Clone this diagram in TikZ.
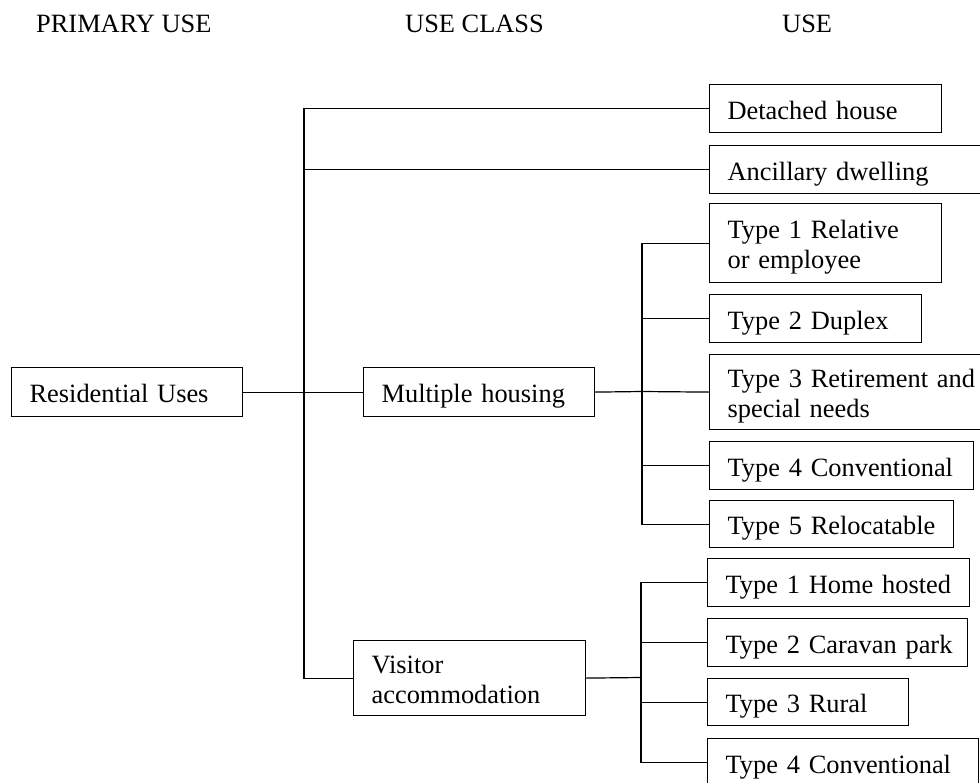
\documentclass[tikz,border=0pt]{standalone}
\usepackage{fontspec}
\setmainfont{Liberation Serif}
\begin{document}
\begin{tikzpicture}[x=1pt,y=-1pt,
  every node/.style={font=\fontsize{26.4}{30}\selectfont},
  box/.style={draw=black, line width=1.2pt, anchor=north west, inner xsep=18pt, inner ysep=0pt,
    align=left, text height=21pt, text depth=0pt},
  box2/.style={box, text depth=30pt},
  head/.style={anchor=base west, inner sep=0pt},
  conn/.style={draw=black, line width=1.2pt}
]
\useasboundingbox (0,0) rectangle (980,782);
\clip (0,0) rectangle (980,782);

% headers
\node[head] (h1) at (36,32) {PRIMARY USE};
\node[head] (h2) at (405,32) {USE CLASS};
\node[head] (h3) at (782,32) {USE};

% primary
\node[box, text width=195pt, minimum height=49pt] (res) at (11,367) {\mbox{Residential Uses}};

% use classes
\node[box, text width=195pt, minimum height=49pt] (mh) at (363,367) {\mbox{Multiple housing}};
\node[box2, text width=196pt, minimum height=75pt] (va) at (353,640) {\mbox{Visitor}\\\mbox{accommodation}};

% uses (top)
\node[box, text width=196pt, minimum height=48pt] (det) at (709,84) {\mbox{Detached house}};
\node[box, text width=264pt, minimum height=48pt] (anc) at (709,145) {\mbox{Ancillary dwelling}};

% multiple housing types
\node[box2, text width=196pt, minimum height=79pt] (m1) at (709,203) {\mbox{Type 1 Relative}\\\mbox{or employee}};
\node[box, text width=176pt, minimum height=48pt] (m2) at (709,294) {\mbox{Type 2 Duplex}};
\node[box2, text width=264pt, minimum height=75pt] (m3) at (709,354) {\mbox{Type 3 Retirement and}\\\mbox{special needs}};
\node[box, text width=228pt, minimum height=48pt] (m4) at (709,441) {\mbox{Type 4 Conventional}};
\node[box, text width=208pt, minimum height=47pt] (m5) at (709,500) {\mbox{Type 5 Relocatable}};

% visitor types
\node[box, text width=226pt, minimum height=48pt] (v1) at (707,558) {\mbox{Type 1 Home hosted}};
\node[box, text width=224pt, minimum height=48pt] (v2) at (707,618) {\mbox{Type 2 Caravan park}};
\node[box, text width=165pt, minimum height=47pt] (v3) at (707,678) {\mbox{Type 3 Rural}};
\node[box, text width=235pt, minimum height=48pt] (v4) at (707,738) {\mbox{Type 4 Conventional}};

% trunk coordinates
\coordinate (t1) at (304,391.5);
\coordinate (t2) at (642,391.5);
\coordinate (t3) at (641,677.5);

% connectors
\draw[conn] (res.east) -- (mh.west);
\draw[conn] (t1) |- (det.west);
\draw[conn] (t1) |- (anc.west);
\draw[conn] (t1) |- (va.west);

\draw[conn] (mh.east) -- (t2);
\draw[conn] (t2) |- (m1.west);
\draw[conn] (t2) |- (m2.west);
\draw[conn] (t2) -- (m3.west);
\draw[conn] (t2) |- (m4.west);
\draw[conn] (t2) |- (m5.west);

\draw[conn] (va.east) -- (t3);
\draw[conn] (t3) |- (v1.west);
\draw[conn] (t3) |- (v2.west);
\draw[conn] (t3) |- (v3.west);
\draw[conn] (t3) |- (v4.west);
\end{tikzpicture}
\end{document}
